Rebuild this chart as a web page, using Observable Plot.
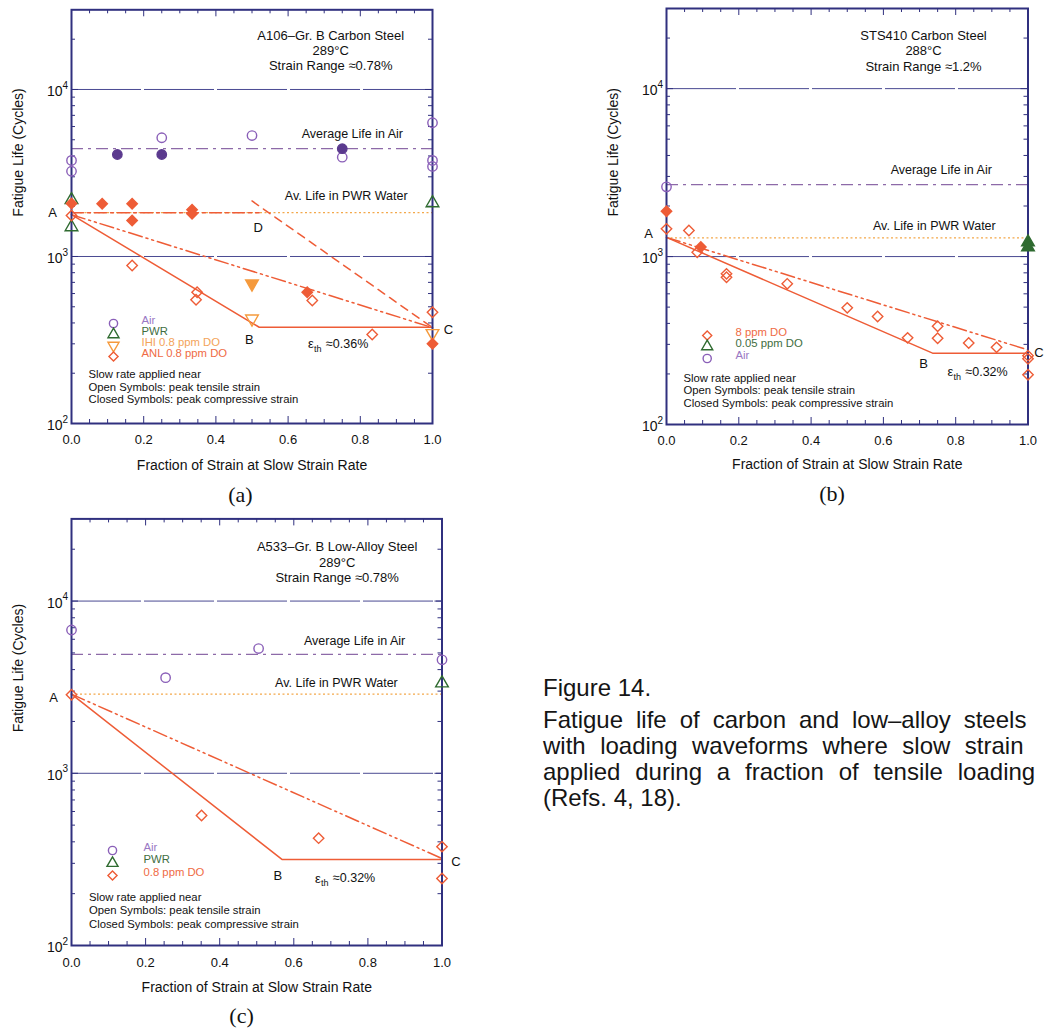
<!DOCTYPE html>
<html>
<head>
<meta charset="utf-8">
<script src="https://cdn.jsdelivr.net/npm/d3@7"></script>
<script src="https://cdn.jsdelivr.net/npm/@observablehq/plot@0.6"></script>
<style>
html,body{margin:0;padding:0;background:#fff;}
body{width:1046px;height:1031px;overflow:hidden;position:relative;font-family:"Liberation Sans",Arial,sans-serif;color:#111;}
.panel{position:absolute;}
.cap{position:absolute;left:543px;font-size:24px;white-space:nowrap;color:#151515;}
</style>
</head>
<body>
<div id="pa" class="panel" style="left:0px;top:0px"></div>
<div id="pb" class="panel" style="left:595px;top:0px"></div>
<div id="pc" class="panel" style="left:0px;top:510px"></div>
<div class="cap" style="top:675px;line-height:26px">Figure 14.</div>
<div class="cap" style="top:707px;line-height:26px">
<div style="word-spacing:6.3px">Fatigue life of carbon and low–alloy steels</div>
<div style="word-spacing:7.8px">with loading waveforms where slow strain</div>
<div style="word-spacing:8.2px">applied during a fraction of tensile loading</div>
<div>(Refs. 4, 18).</div>
</div>
<script>
// ---------- shared tick values ----------
const X_TICKS = [0, 0.2, 0.4, 0.6, 0.8, 1.0];
const X_MINOR = [0.05, 0.1, 0.15, 0.25, 0.3, 0.35, 0.45, 0.5, 0.55, 0.65, 0.7, 0.75, 0.85, 0.9, 0.95];
const X_MAJOR_INNER = [0.2, 0.4, 0.6, 0.8];
const Y_DECADES = [100, 1000, 10000];
const Y_MINOR = [200, 300, 400, 500, 600, 700, 800, 900, 2000, 3000, 4000, 5000, 6000, 7000, 8000, 9000, 20000];
const X_LABEL = "Fraction of Strain at Slow Strain Rate";
const Y_LABEL = "Fatigue Life (Cycles)";
const NOTES = ["Slow rate applied near", "Open Symbols: peak tensile strain", "Closed Symbols: peak compressive strain"];
const AIR_LABEL = "Average Life in Air";
const PWR_LABEL = "Av. Life in PWR Water";

// ---------- panel (a) ----------
const aTitle = ["A106–Gr. B Carbon Steel", "289°C", "Strain Range ≈0.78%"];
const aAirOpen = [[0, 3760], [0, 3240], [0.25, 5140], [0.5, 5300], [0.75, 3930], [1, 6320], [1, 3760], [1, 3460]];
const aAirClosed = [[0.127, 4080], [0.25, 4080], [0.75, 4420]];
const aPwrOpen = [[0, 2180], [0, 1500], [1, 2090]];
const aIhiOpen = [[0.5, 424], [1, 347]];
const aIhiClosed = [[0.5, 687]];
const aAnlOpen = [[0, 1760], [0.168, 883], [0.348, 611], [0.345, 551], [0.667, 545], [0.833, 341], [1, 464]];
const aAnlClosed = [[0, 2077], [0.085, 2070], [0.168, 2070], [0.168, 1643], [0.334, 1904], [0.334, 1801], [0.653, 611], [1, 300]];
const aAirAvg = 4430, aPwrAvg = 1830;
const aSolid = [[0, 1780], [0.52, 377], [1, 377]];
const aDashDotDot = [[0, 1780], [1, 375]];
const aDashDotFlat = [[0, 1830], [0.52, 1830]];
const aDashed = [[0.5, 2150], [1, 375]];
const aLegend = ["Air", "PWR", "IHI 0.8 ppm DO", "ANL 0.8 ppm DO"];
const aThreshold = "≈0.36%";

// ---------- panel (b) ----------
const bTitle = ["STS410 Carbon Steel", "288°C", "Strain Range ≈1.2%"];
const bAirOpen = [[0, 2600]];
const bLowDoClosed = [[1, 1217], [1, 1136]];
const bHighDoOpen = [[0, 1462], [0.062, 1428], [0.085, 1061], [0.166, 789], [0.166, 753], [0.334, 688], [0.5, 495], [0.584, 440], [0.667, 328], [0.75, 385], [0.75, 326], [0.836, 306], [0.913, 288], [1, 257], [1, 246], [1, 198]];
const bHighDoClosed = [[0, 1860], [0.095, 1140]];
const bAirAvg = 2680, bPwrAvg = 1292;
const bSolid = [[0, 1300], [0.736, 266], [1, 266]];
const bDashDotDot = [[0, 1300], [1, 278]];
const bLegend = ["8 ppm DO", "0.05 ppm DO", "Air"];
const bThreshold = "≈0.32%";

// ---------- panel (c) ----------
const cTitle = ["A533–Gr. B Low-Alloy Steel", "289°C", "Strain Range ≈0.78%"];
const cAirOpen = [[0, 6790], [0.254, 3590], [0.505, 5300], [1, 4560]];
const cPwrOpen = [[1, 3335]];
const cDoOpen = [[0, 2860], [0.351, 569], [0.667, 420], [1, 375], [1, 245]];
const cAirAvg = 4900, cPwrAvg = 2880;
const cSolid = [[0, 2880], [0.568, 316], [1, 316]];
const cDashDotDot = [[0, 2880], [1, 320]];
const cLegend = ["Air", "PWR", "0.8 ppm DO"];
const cThreshold = "≈0.32%";

// ---------- styling ----------
const COL = {
  navy: "#30307f", grid: "#4a4a92",
  purple: "#8a5fb8", purpleFill: "#5b3a8e", airLine: "#8d6aa8",
  red: "#ee5c36", orange: "#f59a3c", pwrLine: "#f3a84a",
  green: "#2f6b30",
  tAir: "#9a78c4", tPwr: "#3f6e3f", tIhi: "#f3a35a", tAnl: "#ef6b45"
};
const FONT = "Liberation Sans, Arial, sans-serif";
const DASH = {solid: null, ddd: "14,4,2,4,2,4", dd: "12,4,3,4", dashed: "8,6"};

function panel(cfg) {
  const m = [];
  m.push(Plot.ruleY([1000, 10000], {stroke: COL.grid, strokeWidth: 1, strokeDasharray: "70,3"}));
  m.push(Plot.ruleY([cfg.airAvg], {stroke: COL.airLine, strokeWidth: 1.2, strokeDasharray: "12,5,3,5"}));
  m.push(Plot.ruleY([cfg.pwrAvg], {stroke: COL.pwrLine, strokeWidth: 1.2, strokeDasharray: "2,2.5"}));
  for (const L of cfg.lines) {
    m.push(Plot.line(L.data, {x: d => d[0], y: d => d[1], stroke: COL.red, strokeWidth: 1.5, strokeDasharray: L.dash}));
  }
  m.push(Plot.ruleX(X_MINOR, {x: d => d, y1: 100, y2: 100, insetBottom: 4, stroke: COL.navy}));
  m.push(Plot.ruleX(X_MAJOR_INNER, {x: d => d, y1: 100, y2: 100, insetBottom: 7, stroke: COL.navy}));
  m.push(Plot.ruleX(X_MINOR, {x: d => d, y1: 30000, y2: 30000, insetTop: 4, stroke: COL.navy}));
  m.push(Plot.ruleX(X_MAJOR_INNER, {x: d => d, y1: 30000, y2: 30000, insetTop: 7, stroke: COL.navy}));
  m.push(Plot.ruleY(Y_MINOR, {y: d => d, x1: 0, x2: 0, insetRight: -4, stroke: COL.navy}));
  m.push(Plot.ruleY(Y_MINOR, {y: d => d, x1: 1, x2: 1, insetLeft: -4, stroke: COL.navy}));
  m.push(Plot.ruleY(Y_DECADES, {y: d => d, x1: 0, x2: 0, insetRight: -7, stroke: COL.navy}));
  m.push(Plot.ruleY(Y_DECADES, {y: d => d, x1: 1, x2: 1, insetLeft: -7, stroke: COL.navy}));
  m.push(Plot.frame({stroke: COL.navy, strokeWidth: 2}));
  for (const s of cfg.series) {
    m.push(Plot.dot(s.data, {x: d => d[0], y: d => d[1], symbol: s.symbol, r: s.r || 4.7,
      stroke: s.color, fill: s.filled ? s.color : "none", strokeWidth: 1.4, rotate: s.rotate || 0}));
  }
  m.push(Plot.text(X_TICKS, {x: d => d, frameAnchor: "bottom", dy: cfg.xTickDy, text: d => d.toFixed(1), fontSize: 13}));
  m.push(Plot.text(Y_DECADES, {y: d => d, frameAnchor: "left", dx: -9, dy: 2, textAnchor: "end", text: () => "10", fontSize: 14}));
  m.push(Plot.text(Y_DECADES, {y: d => d, frameAnchor: "left", dx: -9, dy: -4, textAnchor: "start", text: d => String(Math.round(Math.log10(d))), fontSize: 10}));
  m.push(Plot.text([X_LABEL], {x: 0.5, frameAnchor: "bottom", dy: cfg.xLabelDy, fontSize: 14}));
  m.push(Plot.text([Y_LABEL], {frameAnchor: "left", dx: -53, rotate: -90, fontSize: 14}));
  m.push(Plot.text([cfg.letter], {x: cfg.letterX, frameAnchor: "bottom", dy: cfg.letterDy, fontSize: 22, fontFamily: "Liberation Serif, Times New Roman, serif"}));
  cfg.title.forEach((t, i) => m.push(Plot.text([t], {x: cfg.titleX, frameAnchor: "top", dy: cfg.titleDy[i], fontSize: 13})));
  m.push(Plot.text([AIR_LABEL], {x: cfg.airLabelX, y: cfg.airAvg, dy: cfg.airLabelDy, fontSize: 12.5}));
  m.push(Plot.text([PWR_LABEL], {x: cfg.pwrLabelX, y: cfg.pwrAvg, dy: cfg.pwrLabelDy, fontSize: 12.5}));
  for (const p of cfg.pointLabels) {
    m.push(Plot.text([p], {x: d => d.x, y: d => d.y, text: d => d.label, dx: p.dx, dy: p.dy, fontSize: 13}));
  }
  const th = cfg.threshold;
  m.push(Plot.text(["ε"], {x: th.x, y: th.y, dy: th.dy, textAnchor: "start", fontSize: 13}));
  m.push(Plot.text(["th"], {x: th.x, y: th.y, dx: 6, dy: th.dy + 5, textAnchor: "start", fontSize: 9}));
  m.push(Plot.text([th.text], {x: th.x, y: th.y, dx: 18, dy: th.dy, textAnchor: "start", fontSize: 12.5}));
  cfg.legend.forEach((L, i) => {
    m.push(Plot.dot([L], {frameAnchor: "bottom-left", dx: cfg.legSymDx, dy: cfg.legDy[i], symbol: L.symbol, r: 4.1,
      stroke: L.color, fill: "none", strokeWidth: 1.4, rotate: L.rotate || 0}));
    m.push(Plot.text([L.label], {frameAnchor: "bottom-left", dx: cfg.legTextDx, dy: cfg.legDy[i], textAnchor: "start", fill: L.textColor, fontSize: 11.3}));
  });
  NOTES.forEach((t, i) => m.push(Plot.text([t], {frameAnchor: "bottom-left", dx: cfg.notesDx, dy: cfg.notesDy[i], textAnchor: "start", fontSize: 11.3})));

  const svg = Plot.plot({
    width: cfg.width, height: cfg.height,
    marginLeft: cfg.mL, marginRight: cfg.mR, marginTop: cfg.mT, marginBottom: cfg.mB,
    x: {domain: [0, 1], axis: null},
    y: {type: "log", domain: [100, 30000], axis: null},
    style: {fontFamily: FONT, background: "transparent", overflow: "visible", color: "#111"},
    marks: m
  });
  document.getElementById(cfg.el).append(svg);
}

panel({
  el: "pa", width: 470, height: 480, mL: 71, mR: 38, mT: 9.3, mB: 57,
  letter: "(a)", letterX: 0.468, letterDy: 78, xTickDy: 20.5, xLabelDy: 46,
  title: aTitle, titleX: 0.718, titleDy: [20.7, 35.5, 50.7],
  airAvg: aAirAvg, pwrAvg: aPwrAvg,
  airLabelX: 0.778, airLabelDy: -15, pwrLabelX: 0.761, pwrLabelDy: -17,
  lines: [
    {data: aSolid, dash: DASH.solid},
    {data: aDashDotDot, dash: DASH.ddd},
    {data: aDashDotFlat, dash: DASH.dd},
    {data: aDashed, dash: DASH.dashed}
  ],
  series: [
    {data: aAirOpen, symbol: "circle", color: COL.purple},
    {data: aAirClosed, symbol: "circle", color: COL.purpleFill, filled: true},
    {data: aPwrOpen, symbol: "triangle", color: COL.green},
    {data: aIhiOpen, symbol: "triangle", color: COL.orange, rotate: 180},
    {data: aIhiClosed, symbol: "triangle", color: COL.orange, rotate: 180, filled: true},
    {data: aAnlOpen, symbol: "diamond2", color: COL.red},
    {data: aAnlClosed, symbol: "diamond2", color: COL.red, filled: true}
  ],
  pointLabels: [
    {label: "A", x: 0, y: aSolid[0][1], dx: -19, dy: -2},
    {label: "B", x: aSolid[1][0], y: aSolid[1][1], dx: -10, dy: 13},
    {label: "C", x: 1, y: aSolid[2][1], dx: 16, dy: 3},
    {label: "D", x: aDashDotFlat[1][0], y: aPwrAvg, dx: -1, dy: 15}
  ],
  threshold: {x: 0.655, y: aSolid[2][1], dy: 17, text: aThreshold},
  legend: [
    {label: aLegend[0], symbol: "circle", color: COL.purple, textColor: COL.tAir},
    {label: aLegend[1], symbol: "triangle", color: COL.green, textColor: COL.tPwr},
    {label: aLegend[2], symbol: "triangle", color: COL.orange, rotate: 180, textColor: COL.tIhi},
    {label: aLegend[3], symbol: "diamond2", color: COL.red, textColor: COL.tAnl}
  ],
  legSymDx: 42, legTextDx: 70, legDy: [-100, -89, -78, -67],
  notesDx: 17, notesDy: [-46, -33, -21]
});

panel({
  el: "pb", width: 451, height: 480, mL: 71, mR: 18.5, mT: 8, mB: 56,
  letter: "(b)", letterX: 0.458, letterDy: 76, xTickDy: 20, xLabelDy: 44,
  title: bTitle, titleX: 0.711, titleDy: [22, 37, 53],
  airAvg: bAirAvg, pwrAvg: bPwrAvg,
  airLabelX: 0.76, airLabelDy: -15, pwrLabelX: 0.741, pwrLabelDy: -11.5,
  lines: [
    {data: bSolid, dash: DASH.solid},
    {data: bDashDotDot, dash: DASH.ddd}
  ],
  series: [
    {data: bAirOpen, symbol: "circle", color: COL.purple},
    {data: bLowDoClosed, symbol: "triangle", color: COL.green, filled: true},
    {data: bHighDoOpen, symbol: "diamond2", color: COL.red},
    {data: bHighDoClosed, symbol: "diamond2", color: COL.red, filled: true}
  ],
  pointLabels: [
    {label: "A", x: 0, y: bSolid[0][1], dx: -18, dy: -4},
    {label: "B", x: bSolid[1][0], y: bSolid[1][1], dx: -9, dy: 11},
    {label: "C", x: 1, y: bSolid[2][1], dx: 11, dy: 0}
  ],
  threshold: {x: 0.777, y: bSolid[2][1], dy: 19, text: bThreshold},
  legend: [
    {label: bLegend[0], symbol: "diamond2", color: COL.red, textColor: COL.tAnl},
    {label: bLegend[1], symbol: "triangle", color: COL.green, textColor: COL.tPwr},
    {label: bLegend[2], symbol: "circle", color: COL.purple, textColor: COL.tAir}
  ],
  legSymDx: 40.7, legTextDx: 69, legDy: [-89, -78, -66],
  notesDx: 17, notesDy: [-43, -31, -18]
});

panel({
  el: "pc", width: 470, height: 521, mL: 71, mR: 28.5, mT: 8.4, mB: 86,
  letter: "(c)", letterX: 0.459, letterDy: 77, xTickDy: 21, xLabelDy: 46,
  title: cTitle, titleX: 0.717, titleDy: [22.6, 38.6, 53.6],
  airAvg: cAirAvg, pwrAvg: cPwrAvg,
  airLabelX: 0.764, airLabelDy: -13, pwrLabelX: 0.715, pwrLabelDy: -11,
  lines: [
    {data: cSolid, dash: DASH.solid},
    {data: cDashDotDot, dash: DASH.ddd}
  ],
  series: [
    {data: cAirOpen, symbol: "circle", color: COL.purple},
    {data: cPwrOpen, symbol: "triangle", color: COL.green},
    {data: cDoOpen, symbol: "diamond2", color: COL.red}
  ],
  pointLabels: [
    {label: "A", x: 0, y: cSolid[0][1], dx: -18, dy: 4},
    {label: "B", x: cSolid[1][0], y: cSolid[1][1], dx: -4, dy: 16},
    {label: "C", x: 1, y: cSolid[2][1], dx: 14, dy: 2}
  ],
  threshold: {x: 0.657, y: cSolid[2][1], dy: 19, text: cThreshold},
  legend: [
    {label: cLegend[0], symbol: "circle", color: COL.purple, textColor: COL.tAir},
    {label: cLegend[1], symbol: "triangle", color: COL.green, textColor: COL.tPwr},
    {label: cLegend[2], symbol: "diamond2", color: COL.red, textColor: COL.tAnl}
  ],
  legSymDx: 41, legTextDx: 72, legDy: [-95, -82.3, -70],
  notesDx: 17.5, notesDy: [-45, -31.7, -17.7]
});
</script>
</body>
</html>
